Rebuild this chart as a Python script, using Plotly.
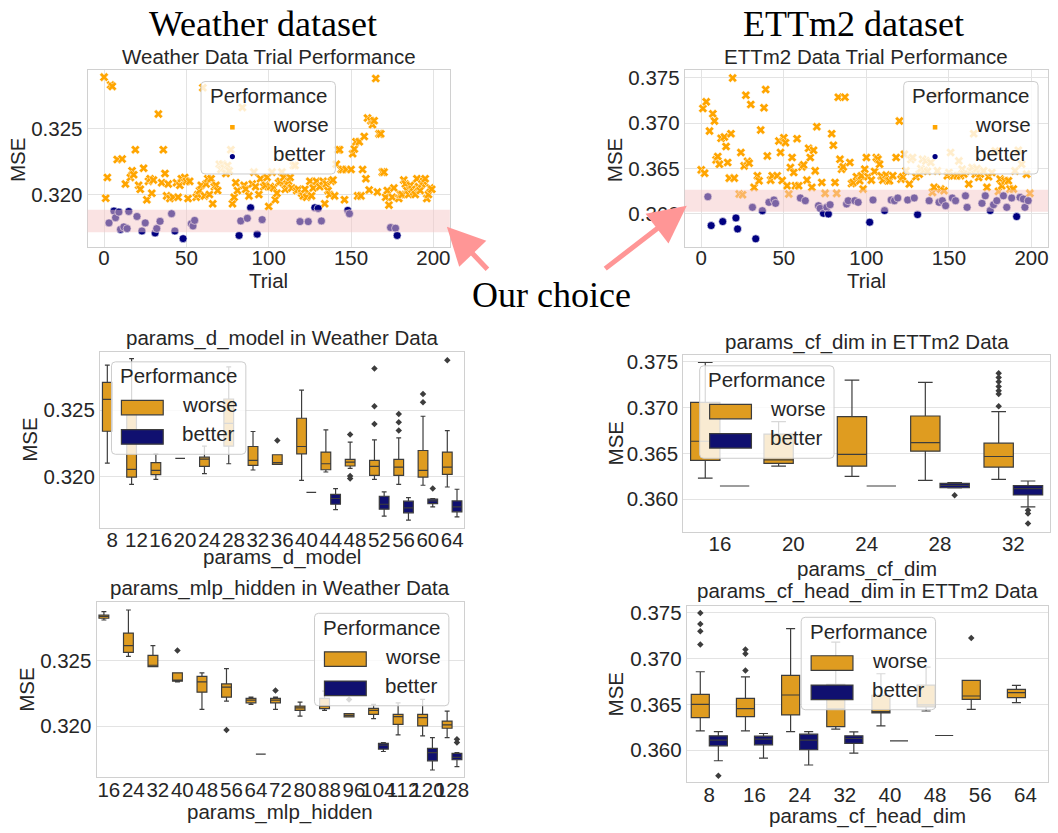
import plotly.graph_objects as go

W, H = 1058, 833

# ---------------- trial-level results ----------------
weather_mse = [
    0.32890, 0.31972, 0.32130, 0.31785, 0.32830, 0.32820, 0.31875, 0.31825, 0.32265, 0.31867,
    0.31736, 0.32270, 0.31755, 0.32080, 0.31742, 0.31872, 0.32130, 0.32180, 0.32150, 0.32340,
    0.31834, 0.32070, 0.32040, 0.31724, 0.32200, 0.31785, 0.31960, 0.32100, 0.32120, 0.32010,
    0.32110, 0.31709, 0.31742, 0.32610, 0.31797, 0.32090, 0.32340, 0.32160, 0.31990, 0.32080,
    0.31970, 0.31855, 0.31980, 0.31724, 0.32090, 0.31980, 0.32070, 0.32120, 0.31666, 0.32130,
    0.32100, 0.31970, 0.32100, 0.31779, 0.31762, 0.31804, 0.31980, 0.32000, 0.32030, 0.32070,
    0.32810, 0.31990, 0.32080, 0.32120, 0.32000, 0.32120, 0.31930, 0.32060, 0.32070, 0.32030,
    0.32230, 0.32190, 0.32230, 0.32200, 0.32160, 0.32220, 0.32180, 0.32340, 0.31930, 0.31980,
    0.32090, 0.32030, 0.31690, 0.31800, 0.32660, 0.32070, 0.32040, 0.31820, 0.31990, 0.31900,
    0.32080, 0.32170, 0.32060, 0.31700, 0.32000, 0.32120, 0.31810, 0.32060, 0.32070, 0.32130,
    0.31910, 0.32060, 0.32170, 0.32050, 0.31960, 0.32010, 0.32090, 0.32100, 0.32170, 0.32130,
    0.32040, 0.32080, 0.32100, 0.32130, 0.32050, 0.32220, 0.32220, 0.32030, 0.32040, 0.31795,
    0.32010, 0.31990, 0.32040, 0.31980, 0.31795, 0.32100, 0.31990, 0.32050, 0.31900, 0.32100,
    0.31895, 0.32060, 0.31800, 0.32100, 0.31930, 0.32080, 0.32030, 0.32000, 0.32100, 0.32110,
    0.31990, 0.32230, 0.32340, 0.32340, 0.32190, 0.32190, 0.31960, 0.32190, 0.31880, 0.31855,
    0.32190, 0.32310, 0.32345, 0.32400, 0.31990, 0.32400, 0.31990, 0.32190, 0.32440, 0.32120,
    0.32580, 0.32035, 0.32560, 0.32530, 0.32560, 0.32880, 0.32020, 0.32460, 0.32460, 0.32170,
    0.32170, 0.31980, 0.32030, 0.31920, 0.31750, 0.31980, 0.32050, 0.31745, 0.31690, 0.31970,
    0.32000, 0.32000, 0.32110, 0.32080, 0.32030, 0.32000, 0.32070, 0.32040, 0.32020, 0.32000,
    0.32120, 0.32060, 0.32030, 0.32080, 0.32100, 0.32120, 0.31970, 0.32000, 0.32050, 0.32040,
]
weather_better_trials = [3, 6, 7, 9, 10, 12, 14, 15, 20, 23, 25, 31, 32, 34, 41, 43, 48, 53,
                         54, 55, 82, 83, 87, 89, 93, 96, 119, 124, 128, 130, 132, 148, 149,
                         174, 177, 178]
weather_choice = (0.31714, 0.31885)

ettm2_mse = [
    0.36486, 0.37163, 0.36450, 0.37236, 0.36190, 0.36914, 0.35872, 0.37104, 0.37024, 0.36596,
    0.36633, 0.36549, 0.36834, 0.35916, 0.36848, 0.36743, 0.36567, 0.36395, 0.36885, 0.37499,
    0.36395, 0.35956, 0.35835, 0.36220, 0.36677, 0.36212, 0.36530, 0.37309, 0.36580, 0.36560,
    0.37207, 0.36073, 0.36293, 0.35726, 0.36420, 0.36365, 0.36925, 0.36036, 0.37170, 0.37371,
    0.36640, 0.36128, 0.36373, 0.36421, 0.36154, 0.36117, 0.36421, 0.36804, 0.36677, 0.36370,
    0.36841, 0.36786, 0.36311, 0.36220, 0.36512, 0.36622, 0.36457, 0.36311, 0.36830, 0.36311,
    0.36176, 0.36519, 0.36541, 0.36146, 0.36373, 0.36724, 0.36622, 0.36293, 0.36702, 0.36475,
    0.36962, 0.36091, 0.36062, 0.36347, 0.36007, 0.36227, 0.36073, 0.36000, 0.36102, 0.36885,
    0.36757, 0.36347, 0.36227, 0.37287, 0.36603, 0.36494, 0.36519, 0.37287, 0.36110, 0.36146,
    0.36567, 0.36336, 0.36347, 0.36146, 0.36410, 0.36128, 0.36366, 0.36420, 0.36274, 0.36494,
    0.36622, 0.36410, 0.35909, 0.36373, 0.36154, 0.36468, 0.36622, 0.36603, 0.36549, 0.36420,
    0.36373, 0.36037, 0.36428, 0.36366, 0.36366, 0.36154, 0.36421, 0.36146, 0.36622, 0.36176,
    0.37024, 0.36384, 0.36410, 0.36658, 0.36475, 0.36154, 0.36330, 0.36600, 0.36622, 0.36176,
    0.36410, 0.35993, 0.36439, 0.36500, 0.36603, 0.36480, 0.36585, 0.36470, 0.36146, 0.36567,
    0.36238, 0.36293, 0.37317, 0.36475, 0.36128, 0.36274, 0.36146, 0.36256, 0.36091, 0.36421,
    0.36457, 0.36677, 0.36176, 0.36421, 0.36146, 0.36421, 0.36585, 0.36421, 0.36494, 0.36440,
    0.36200, 0.36073, 0.36330, 0.36470, 0.36512, 0.36885, 0.36439, 0.36500, 0.36402, 0.36440,
    0.36117, 0.36475, 0.36200, 0.36293, 0.36410, 0.36037, 0.36457, 0.36102, 0.36695, 0.36146,
    0.36249, 0.36384, 0.36310, 0.36200, 0.36366, 0.36073, 0.36366, 0.36274, 0.36176, 0.36274,
    0.36475, 0.35971, 0.36702, 0.36183, 0.36549, 0.36165, 0.36073, 0.36439, 0.36146, 0.36227,
]
ettm2_better_trials = [4, 6, 13, 21, 22, 31, 33, 37, 41, 44, 45, 60, 63, 71, 72, 74, 76, 77, 78,
                       88, 89, 93, 95, 102, 104, 111, 115, 117, 119, 125, 129, 131, 138, 144,
                       146, 148, 152, 154, 160, 161, 170, 172, 175, 177, 179, 183, 185, 188,
                       191, 193, 195, 196, 198]
ettm2_choice = (0.36025, 0.36267)

# ---------------- per-parameter box summaries ----------------
# each entry: (lower whisker, Q1, median, Q3, upper whisker); None = no trials
dmodel_labels = ["8", "12", "16", "20", "24", "28", "32", "36", "40", "44", "48", "52", "56", "60", "64"]
dmodel_worse = [
    (0.32100, 0.32340, 0.32580, 0.32708, 0.32838),
    (0.31940, 0.31995, 0.32053, 0.32480, 0.32888),
    (0.31978, 0.32013, 0.32045, 0.32103, 0.32170),
    (0.32135, 0.32135, 0.32135, 0.32135, 0.32135),
    (0.32020, 0.32075, 0.32130, 0.32145, 0.32228),
    (0.32095, 0.32228, 0.32400, 0.32583, 0.32825),
    (0.32048, 0.32083, 0.32120, 0.32225, 0.32338),
    (0.32090, 0.32090, 0.32103, 0.32163, 0.32163),
    (0.31970, 0.32170, 0.32225, 0.32438, 0.32650),
    (0.32033, 0.32050, 0.32095, 0.32183, 0.32350),
    (0.32060, 0.32078, 0.32108, 0.32128, 0.32258),
    (0.31978, 0.32008, 0.32075, 0.32120, 0.32275),
    (0.31940, 0.32008, 0.32070, 0.32128, 0.32290),
    (0.31933, 0.31995, 0.32045, 0.32195, 0.32453),
    (0.31920, 0.32015, 0.32070, 0.32183, 0.32345),
]
dmodel_better = [
    None, None, None, None, None, None, None, None,
    (0.31880, 0.31880, 0.31880, 0.31880, 0.31880),
    (0.31750, 0.31790, 0.31833, 0.31865, 0.31908),
    None,
    (0.31700, 0.31753, 0.31790, 0.31850, 0.31883),
    (0.31670, 0.31725, 0.31763, 0.31813, 0.31840),
    (0.31770, 0.31795, 0.31815, 0.31828, 0.31833),
    (0.31695, 0.31733, 0.31770, 0.31815, 0.31903),
]
dmodel_worse_fliers = [(7, 0.32270), (10, 0.32315), (10, 0.32003), (10, 0.31983), (11, 0.32813),
                       (11, 0.32528), (11, 0.32395), (12, 0.32470), (12, 0.32408), (12, 0.32345),
                       (13, 0.32620), (13, 0.32558), (14, 0.32875)]
dmodel_better_fliers = [(13, 0.31908)]

cfdim_labels = ["16", "20", "24", "28", "32"]
cfdim_worse = [
    (0.36231, 0.36423, 0.36632, 0.37055, 0.37489),
    (0.36361, 0.36390, 0.36430, 0.36710, 0.36846),
    (0.36249, 0.36361, 0.36488, 0.36900, 0.37297),
    (0.36206, 0.36524, 0.36618, 0.36907, 0.37272),
    (0.36217, 0.36351, 0.36466, 0.36611, 0.36954),
]
cfdim_better = [
    (0.36145, 0.36145, 0.36145, 0.36145, 0.36145),
    None,
    (0.36145, 0.36145, 0.36145, 0.36145, 0.36145),
    (0.36123, 0.36126, 0.36152, 0.36173, 0.36181),
    (0.35917, 0.36047, 0.36116, 0.36148, 0.36199),
]
cfdim_worse_fliers = [(4, 0.37373), (4, 0.37326), (4, 0.37279), (4, 0.37229), (4, 0.37182),
                      (4, 0.37146), (4, 0.37012)]
cfdim_better_fliers = [(3, 0.36043), (4, 0.35881), (4, 0.35845), (4, 0.35736)]

mlp_labels = ["16", "24", "32", "40", "48", "56", "64", "72", "80", "88", "96", "104", "112", "120", "128"]
mlp_worse = [
    (0.32810, 0.32823, 0.32838, 0.32848, 0.32874),
    (0.32533, 0.32563, 0.32614, 0.32710, 0.32886),
    (0.32455, 0.32455, 0.32465, 0.32540, 0.32614),
    (0.32338, 0.32343, 0.32351, 0.32407, 0.32407),
    (0.32129, 0.32260, 0.32338, 0.32381, 0.32407),
    (0.32192, 0.32222, 0.32298, 0.32323, 0.32439),
    (0.32167, 0.32179, 0.32199, 0.32212, 0.32222),
    (0.32129, 0.32179, 0.32199, 0.32212, 0.32222),
    (0.32078, 0.32121, 0.32141, 0.32154, 0.32184),
    (0.32121, 0.32134, 0.32154, 0.32212, 0.32268),
    (0.32071, 0.32071, 0.32083, 0.32096, 0.32096),
    (0.32058, 0.32091, 0.32121, 0.32136, 0.32167),
    (0.31934, 0.32015, 0.32073, 0.32091, 0.32179),
    (0.31927, 0.32003, 0.32066, 0.32091, 0.32205),
    (0.31914, 0.31985, 0.32010, 0.32040, 0.32116),
]
mlp_better = [
    None, None, None, None, None, None,
    (0.31788, 0.31788, 0.31788, 0.31788, 0.31788),
    None, None, None, None,
    (0.31808, 0.31826, 0.31856, 0.31869, 0.31876),
    None,
    (0.31667, 0.31737, 0.31800, 0.31831, 0.31914),
    (0.31692, 0.31745, 0.31763, 0.31793, 0.31800),
]
mlp_worse_fliers = [(3, 0.32578), (5, 0.31972), (7, 0.32273), (10, 0.32205)]
mlp_better_fliers = [(14, 0.31902), (14, 0.31876)]

headdim_labels = ["8", "16", "24", "32", "40", "48", "56", "64"]
headdim_worse = [
    (0.36211, 0.36356, 0.36501, 0.36610, 0.36857),
    (0.36211, 0.36367, 0.36454, 0.36566, 0.36802),
    (0.36203, 0.36385, 0.36603, 0.36817, 0.37329),
    (0.36229, 0.36258, 0.36450, 0.36720, 0.37180),
    (0.36265, 0.36407, 0.36421, 0.36600, 0.36835),
    (0.36428, 0.36472, 0.36494, 0.36711, 0.36908),
    (0.36446, 0.36555, 0.36592, 0.36762, 0.36762),
    (0.36519, 0.36574, 0.36628, 0.36664, 0.36708),
]
headdim_better = [
    (0.35884, 0.36047, 0.36110, 0.36156, 0.36203),
    (0.35913, 0.36058, 0.36120, 0.36152, 0.36182),
    (0.35837, 0.36004, 0.36109, 0.36174, 0.36203),
    (0.35967, 0.36073, 0.36127, 0.36156, 0.36200),
    (0.36102, 0.36102, 0.36102, 0.36102, 0.36102),
    (0.36160, 0.36160, 0.36160, 0.36160, 0.36160),
    None, None,
]
headdim_worse_fliers = [(0, 0.37499), (0, 0.37379), (0, 0.37300), (0, 0.37154), (1, 0.37100),
                        (1, 0.37053), (1, 0.36871), (6, 0.37227)]
headdim_better_fliers = [(0, 0.35720)]

# ---------------- styling ----------------
ORANGE = "rgb(255,165,0)"
NAVY = "rgb(0,0,128)"
BOX_ORANGE = "rgb(223,156,32)"
BOX_NAVY = "rgb(16,16,112)"
EDGE = "#3d3d3d"
TXT = "#262626"
SANS = "Arial, 'Liberation Sans', sans-serif"
SERIF = "'Times New Roman', 'Liberation Serif', serif"
GRID = "#e3e3e3"
SPINE = "#d0d0d0"
FS = 20.5


def px(x):
    return x / W


def py(y):
    return 1 - y / H


def xid(k):
    return "x" if k == 1 else f"x{k}"


def yid(k):
    return "y" if k == 1 else f"y{k}"


# panel boxes in pixels: (left, top, right, bottom)
panels = {
    1: (88, 65, 452, 243),
    2: (688, 65, 1053, 243),
    3: (100.5, 349, 466.5, 526),
    4: (686.5, 352, 1055, 530),
    5: (97, 601, 466.5, 777),
    6: (690, 605, 1053, 782),
}

fig = go.Figure()
annotations = []
shapes = []


def text(x, y, s, size=FS, anchor="center", angle=0, family=SANS, color=TXT):
    # annotation boxes sit a few px low relative to the glyphs' visual centre
    dy = -3 if angle == 0 else 0
    annotations.append(dict(x=px(x), y=py(y + dy), xref="paper", yref="paper", text=s,
                            showarrow=False, xanchor=anchor, yanchor="middle",
                            textangle=angle, font=dict(family=family, size=size, color=color)))


def axis_common(k, yr, ydtick, xgrid):
    l, t, r, b = panels[k]
    ax = dict(domain=[px(l), px(r)], showline=True, linecolor=SPINE, linewidth=1, mirror=True,
              zeroline=False, showgrid=xgrid, gridcolor=GRID, gridwidth=1, ticks="",
              ticklabelstandoff=-6,
              tickfont=dict(family=SANS, size=FS, color=TXT), anchor=yid(k))
    ay = dict(domain=[py(b), py(t)], range=yr, showline=True, linecolor=SPINE, linewidth=1,
              mirror=True, zeroline=False, showgrid=True, gridcolor=GRID, gridwidth=1,
              ticks="", dtick=ydtick, tick0=0, tickformat=".3f",
              tickfont=dict(family=SANS, size=FS, color=TXT), anchor=xid(k))
    return ax, ay


def rrect_path(x0, y0, x1, y1, r=4):
    return (f"M {px(x0 + r)},{py(y0)} L {px(x1 - r)},{py(y0)} Q {px(x1)},{py(y0)} {px(x1)},{py(y0 + r)} "
            f"L {px(x1)},{py(y1 - r)} Q {px(x1)},{py(y1)} {px(x1 - r)},{py(y1)} "
            f"L {px(x0 + r)},{py(y1)} Q {px(x0)},{py(y1)} {px(x0)},{py(y1 - r)} "
            f"L {px(x0)},{py(y0 + r)} Q {px(x0)},{py(y0)} {px(x0 + r)},{py(y0)} Z")


def legend(x0, y0, kind):
    w, h = 135, 93
    shapes.append(dict(type="path", path=rrect_path(x0, y0, x0 + w, y0 + h), xref="paper",
                       yref="paper", fillcolor="rgba(255,255,255,0.8)",
                       line=dict(color="#cccccc", width=1), layer="above"))
    text(x0 + w / 2, y0 + 17, "Performance")
    rows = [("worse", ORANGE if kind == "marker" else BOX_ORANGE, y0 + 46),
            ("better", NAVY if kind == "marker" else BOX_NAVY, y0 + 75.5)]
    for i, (lab, col, yc) in enumerate(rows):
        if kind == "box":
            shapes.append(dict(type="rect", xref="paper", yref="paper",
                               x0=px(x0 + 10), x1=px(x0 + 52), y0=py(yc + 7.3), y1=py(yc - 7.3),
                               fillcolor=col, line=dict(color=EDGE, width=1.2), layer="above"))
            text(x0 + 69, yc, lab, anchor="left")
        else:
            s = 2.3 if i == 0 else 2.6
            shapes.append(dict(type="rect" if i == 0 else "circle", xref="paper", yref="paper",
                               x0=px(x0 + 31.5 - s), x1=px(x0 + 31.5 + s),
                               y0=py(yc + s), y1=py(yc - s),
                               fillcolor=col, line=dict(width=0), layer="above"))
            text(x0 + 70, yc, lab, anchor="left")


layout_axes = {}


def axis_keys(k):
    return ("xaxis" if k == 1 else f"xaxis{k}"), ("yaxis" if k == 1 else f"yaxis{k}")


def scatter_panel(k, mse, better, band, yr, title):
    worse_x = [t for t in range(len(mse)) if t not in better]
    worse_y = [mse[t] for t in worse_x]
    better_y = [mse[t] for t in better]
    fig.add_trace(go.Scatter(x=worse_x, y=worse_y, mode="markers", xaxis=xid(k), yaxis=yid(k),
                             marker=dict(symbol="x", size=8, color=ORANGE,
                                         line=dict(color="white", width=0.5)),
                             showlegend=False))
    fig.add_trace(go.Scatter(x=better, y=better_y, mode="markers", xaxis=xid(k), yaxis=yid(k),
                             marker=dict(symbol="circle", size=8, color=NAVY,
                                         line=dict(color="white", width=0.6)),
                             showlegend=False))
    ax, ay = axis_common(k, yr, 0.005, True)
    ax.update(range=[-10, 210], tickvals=[0, 50, 100, 150, 200], ticklabelstandoff=-7)
    kx, ky = axis_keys(k)
    layout_axes[kx] = ax
    layout_axes[ky] = ay
    shapes.append(dict(type="rect", xref=f"{xid(k)} domain", yref=yid(k), x0=0, x1=1,
                       y0=band[0], y1=band[1], fillcolor="rgba(245,200,200,0.5)",
                       line=dict(width=0), layer="above"))
    l, t, r, b = panels[k]
    text((l + r) / 2, 55, title)
    text((l + r) / 2, 280, "Trial")


def box_panel(k, labels, worse, better, wf, bf, yr, title, xlabel, title_y, xlabel_y, mse_x):
    for stats, col, off, fl in ((worse, BOX_ORANGE, -0.2, wf), (better, BOX_NAVY, 0.2, bf)):
        pos = [i + off for i, s in enumerate(stats) if s is not None]
        vals = [s for s in stats if s is not None]
        fig.add_trace(go.Box(x=pos, lowerfence=[v[0] for v in vals], q1=[v[1] for v in vals],
                             median=[v[2] for v in vals], q3=[v[3] for v in vals],
                             upperfence=[v[4] for v in vals], width=0.4, whiskerwidth=0.5,
                             fillcolor=col, line=dict(color=EDGE, width=1.2), boxpoints=False,
                             xaxis=xid(k), yaxis=yid(k), showlegend=False, hoverinfo="skip"))
        if fl:
            fig.add_trace(go.Scatter(x=[c + off for c, _ in fl], y=[v for _, v in fl],
                                     mode="markers", xaxis=xid(k), yaxis=yid(k),
                                     marker=dict(symbol="diamond", size=5, color=EDGE),
                                     showlegend=False))
    ax, ay = axis_common(k, yr, 0.005, False)
    ax.update(range=[-0.5, len(labels) - 0.5], tickvals=list(range(len(labels))),
              ticktext=labels, tickangle=0)
    kx, ky = axis_keys(k)
    layout_axes[kx] = ax
    layout_axes[ky] = ay
    l, t, r, b = panels[k]
    text((l + r) / 2, title_y, title)
    text((l + r) / 2, xlabel_y, xlabel)
    text(mse_x, (t + b) / 2, "MSE", angle=-90)


scatter_panel(1, weather_mse, weather_better_trials, weather_choice, [0.31606, 0.32947],
              "Weather Data Trial Performance")
scatter_panel(2, ettm2_mse, ettm2_better_trials, ettm2_choice, [0.35641, 0.37591],
              "ETTm2 Data Trial Performance")
text(17, 156, "MSE", angle=-90)
text(617, 156, "MSE", angle=-90)

box_panel(3, dmodel_labels, dmodel_worse, dmodel_better, dmodel_worse_fliers,
          dmodel_better_fliers, [0.31612, 0.32938], "params_d_model in Weather Data",
          "params_d_model", 338, 558, 30)
box_panel(4, cfdim_labels, cfdim_worse, cfdim_better, cfdim_worse_fliers, cfdim_better_fliers,
          [0.35646, 0.37572], "params_cf_dim in ETTm2 Data", "params_cf_dim", 342, 570, 618)
box_panel(5, mlp_labels, mlp_worse, mlp_better, mlp_worse_fliers, mlp_better_fliers,
          [0.31611, 0.32944], "params_mlp_hidden in Weather Data", "params_mlp_hidden",
          590, 815, 27)
box_panel(6, headdim_labels, headdim_worse, headdim_better, headdim_worse_fliers,
          headdim_better_fliers, [0.35648, 0.37572], "params_cf_head_dim in ETTm2 Data",
          "params_cf_head_dim", 593, 819, 618)

# legends
legend(202, 77, "marker")
legend(908, 77, "marker")
legend(112, 359, "box")
legend(703, 363, "box")
legend(316, 612, "box")
legend(805, 616, "box")

# headline texts and arrows
text(264, 22, "Weather dataset", size=36, family=SERIF, color="black")
text(858, 22, "ETTm2 dataset", size=36, family=SERIF, color="black")
text(554, 295, "Our choice", size=36, family=SERIF, color="black")
ARROW = "rgb(255,150,150)"
for tip, tail in (((449, 223), (491, 267)), ((690, 202), (607, 266))):
    annotations.append(dict(x=px(tip[0]), y=py(tip[1]), xref="paper", yref="paper",
                            ax=tail[0] - tip[0], ay=tail[1] - tip[1], axref="pixel",
                            ayref="pixel", text="", showarrow=True, arrowhead=2, arrowsize=1.5,
                            arrowwidth=5, arrowcolor=ARROW))

fig.update_layout(width=W, height=H, margin=dict(l=0, r=0, t=0, b=0), autosize=False,
                  paper_bgcolor="white", plot_bgcolor="white", showlegend=False,
                  boxmode="overlay", annotations=annotations, shapes=shapes, **layout_axes)

fig.write_html("out.html")
